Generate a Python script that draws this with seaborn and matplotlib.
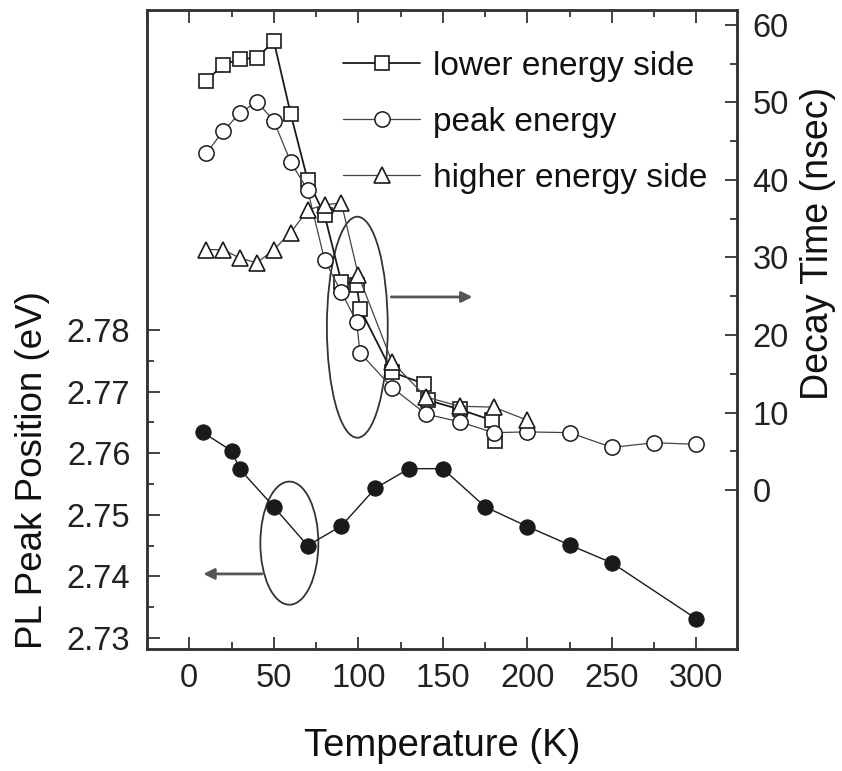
import numpy as np
import pandas as pd
import matplotlib
matplotlib.use("Agg")
import matplotlib.pyplot as plt
from matplotlib.patches import Ellipse
from matplotlib.ticker import MultipleLocator, FixedLocator
import seaborn as sns

# ---------------- data ----------------
T_pl = [8, 25, 30, 50, 70, 90, 110, 130, 150, 175, 200, 225, 250, 300]
E_pl = [2.7634, 2.7604, 2.7574, 2.7513, 2.7450, 2.7482, 2.7543, 2.7575,
        2.7575, 2.7513, 2.7481, 2.7451, 2.7422, 2.7331]

T_low = [10, 20, 30, 40, 50, 60, 70, 80, 90, 99, 101, 120, 139, 141, 160, 179, 181]
tau_low = [52.8, 54.8, 55.6, 55.7, 57.9, 48.5, 40.0, 35.5, 26.8, 26.5, 23.4,
           15.2, 13.7, 11.6, 10.4, 9.0, 6.3]

T_peak = [10, 20, 30, 40, 50, 60, 70, 80, 90, 99, 101, 120, 140, 160, 180,
          200, 225, 250, 275, 300]
tau_peak = [43.4, 46.3, 48.6, 50.1, 47.6, 42.3, 38.7, 29.7, 25.5, 21.7, 17.7,
            13.2, 9.8, 8.8, 7.4, 7.5, 7.4, 5.5, 6.1, 5.9]

T_high = [10, 20, 30, 40, 50, 60, 70, 80, 90, 100, 120, 140, 160, 180, 200]
tau_high = [31.0, 31.0, 29.9, 29.3, 31.0, 33.2, 36.1, 36.8, 37.0, 27.7, 16.5,
            12.0, 10.8, 10.7, 9.0]

labels = ["lower energy side", "peak energy", "higher energy side"]
x_ticks = [0, 50, 100, 150, 200, 250, 300]
left_ticks = [2.73, 2.74, 2.75, 2.76, 2.77, 2.78]
right_ticks = [0, 10, 20, 30, 40, 50, 60]

df_pl = pd.DataFrame({"T": T_pl, "E": E_pl})
df_low = pd.DataFrame({"T": T_low, "tau": tau_low})
df_peak = pd.DataFrame({"T": T_peak, "tau": tau_peak})
df_high = pd.DataFrame({"T": T_high, "tau": tau_high})

# ---------------- style ----------------
sns.set_style("ticks")
plt.rcParams["font.family"] = ["Liberation Sans", "DejaVu Sans"]
plt.rcParams["text.color"] = "#111111"
plt.rcParams["axes.labelcolor"] = "#111111"
plt.rcParams["xtick.color"] = "#222222"
plt.rcParams["ytick.color"] = "#222222"

TICK_FS = 23.5
LEG_FS = 24
INK = "#1a1a1a"

fig = plt.figure(figsize=(8.42, 7.71), dpi=100)
ax = fig.add_axes([0.1746, 0.1582, 0.7007, 0.8288])
ax2 = ax.twinx()

# filled series on the left axis
sns.lineplot(data=df_pl, x="T", y="E", ax=ax, estimator=None, sort=False,
             color=INK, linewidth=1.0, marker="o", markersize=11,
             markerfacecolor=INK, markeredgecolor=INK, legend=False)

# open series on the right axis
sns.lineplot(data=df_low, x="T", y="tau", ax=ax2, estimator=None, sort=False,
             color=INK, linewidth=1.3, marker="s", markersize=10.5,
             markerfacecolor="white", markeredgecolor=INK, markeredgewidth=1.2,
             label=labels[0])
sns.lineplot(data=df_peak, x="T", y="tau", ax=ax2, estimator=None, sort=False,
             color="#444444", linewidth=0.9, marker="o", markersize=11,
             markerfacecolor="white", markeredgecolor=INK, markeredgewidth=1.1,
             label=labels[1])
sns.lineplot(data=df_high, x="T", y="tau", ax=ax2, estimator=None, sort=False,
             color="#444444", linewidth=0.9, marker="^", markersize=11,
             markerfacecolor="white", markeredgecolor=INK, markeredgewidth=1.2,
             label=labels[2])

# ---------------- axes ----------------
ax.set_xlim(-25, 324)
ax.set_ylim(2.7282, 2.832)
ax2.set_ylim(-20.5, 61.9)

ax.xaxis.set_major_locator(FixedLocator(x_ticks))
ax.xaxis.set_minor_locator(MultipleLocator(25))
ax.yaxis.set_major_locator(FixedLocator(left_ticks))
ax.yaxis.set_minor_locator(FixedLocator([2.735, 2.745, 2.755, 2.765, 2.775]))
ax.set_yticklabels([f"{v:.2f}" for v in left_ticks])
ax2.yaxis.set_major_locator(FixedLocator(right_ticks))
ax2.yaxis.set_minor_locator(FixedLocator([5, 15, 25, 35, 45, 55]))

ax.tick_params(axis="x", which="both", direction="in", top=True, bottom=True,
               labelsize=TICK_FS, pad=10)
ax.tick_params(axis="x", which="major", length=9, width=1.2)
ax.tick_params(axis="x", which="minor", length=5, width=1.2)
ax.tick_params(axis="y", which="both", direction="in", left=True, right=False,
               labelsize=TICK_FS, pad=12)
ax.tick_params(axis="y", which="major", length=9, width=1.2)
ax.tick_params(axis="y", which="minor", length=5, width=1.2)
ax2.tick_params(axis="y", which="both", direction="in", right=True, left=False,
                labelsize=TICK_FS, pad=11)
ax2.tick_params(axis="y", which="major", length=9, width=1.2)
ax2.tick_params(axis="y", which="minor", length=5, width=1.2)
ax2.tick_params(axis="x", which="both", top=False, bottom=False)

for a in (ax, ax2):
    for s in a.spines.values():
        s.set_linewidth(1.8)
        s.set_color("#333333")
        s.set_visible(True)

ax.set_xlabel("Temperature (K)", fontsize=27.5)
ax.set_ylabel("PL Peak Position (eV)", fontsize=26.5)
ax2.set_ylabel("Decay Time (nsec)", fontsize=27)
ax.xaxis.set_label_coords(0.5, -0.124)
ax.yaxis.set_label_coords(-0.165, 0.28)
ax2.yaxis.set_label_coords(1.107, 0.634)

# ---------------- annotations ----------------
ell1 = Ellipse((99.4, 21.0), 36, 28.5, fill=False, edgecolor="#333333", lw=1.3, zorder=1)
ax2.add_patch(ell1)
ax2.annotate("", xy=(167.5, 24.9), xytext=(119.5, 24.9),
             arrowprops=dict(arrowstyle="-|>", color="#555555", lw=2.0,
                             mutation_scale=16, shrinkA=0, shrinkB=0))
ell2 = Ellipse((59.2, 2.7454), 34.3, 0.0200, fill=False, edgecolor="#333333", lw=1.3)
ax.add_patch(ell2)
ax.annotate("", xy=(8.3, 2.7404), xytext=(43.0, 2.7404),
            arrowprops=dict(arrowstyle="-|>", color="#555555", lw=2.0,
                            mutation_scale=16, shrinkA=0, shrinkB=0))

leg = ax2.legend(loc="upper left", bbox_to_anchor=(0.31, 0.957), frameon=False,
                 fontsize=LEG_FS, handlelength=2.3, handletextpad=0.4,
                 labelspacing=0.75, borderaxespad=0)

fig.savefig("out.png", dpi=100)
